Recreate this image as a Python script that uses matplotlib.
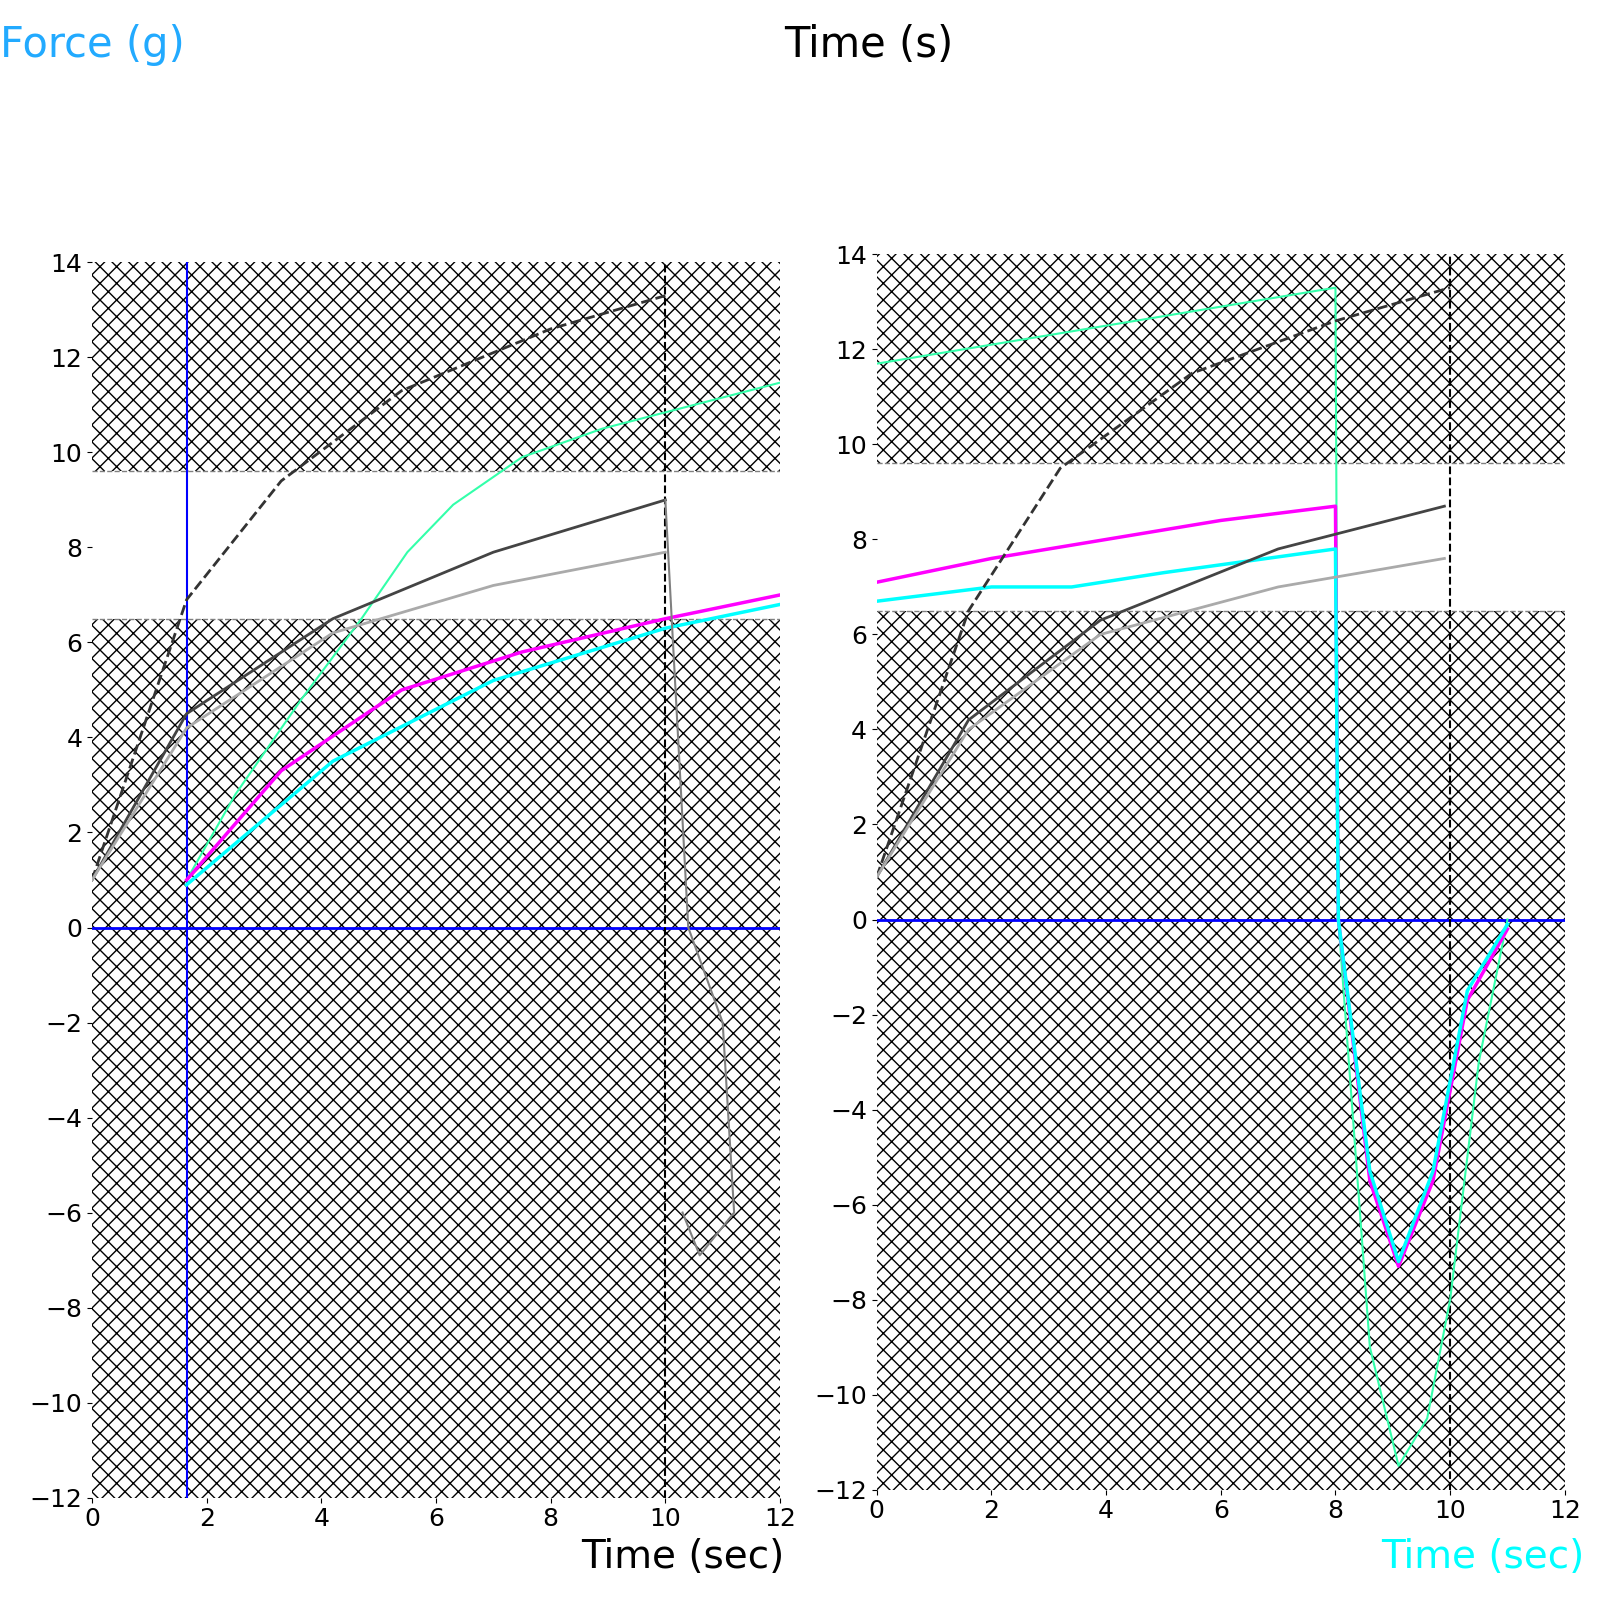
import matplotlib.pyplot as plt
import numpy as np

# left panel series (time s, force g)
l_green_t = [1.65, 2.5, 3.65, 4.7, 5.5, 6.3, 7.5, 8.9, 10.5, 12.1]
l_green_y = [1.0, 2.8, 4.8, 6.5, 7.9, 8.9, 9.9, 10.5, 11.0, 11.5]
l_mag_t = [1.65, 3.3, 5.4, 7.5, 10.0, 12.0]
l_mag_y = [1.0, 3.3, 5.0, 5.8, 6.5, 7.0]
l_cyan_t = [1.65, 4.2, 7.0, 10.0, 12.0]
l_cyan_y = [0.9, 3.5, 5.2, 6.3, 6.8]
l_blk_t = [0.0, 1.65, 3.3, 5.4, 8.0, 10.0]
l_blk_y = [1.0, 6.9, 9.4, 11.3, 12.6, 13.3]
l_dark_t = [0.0, 1.65, 4.2, 7.0, 10.0]
l_dark_y = [1.0, 4.5, 6.5, 7.9, 9.0]
l_grey_t = [0.0, 1.65, 4.2, 7.0, 10.0]
l_grey_y = [1.0, 4.2, 6.2, 7.2, 7.9]
l_tail_t = [10.0, 10.4, 11.0, 11.2, 10.6, 10.3]
l_tail_y = [9.0, 0.0, -2.0, -6.0, -6.9, -6.0]

# right panel series
r_green_t = [0.0, 2.0, 4.0, 6.0, 8.0, 8.05, 8.6, 9.1, 9.6, 10.0, 10.5, 11.0]
r_green_y = [11.7, 12.1, 12.5, 12.9, 13.3, 0.0, -9.0, -11.5, -10.5, -8.0, -3.0, 0.0]
r_mag_t = [0.0, 2.0, 4.0, 6.0, 8.0, 8.05, 8.6, 9.1, 9.7, 10.3, 11.0]
r_mag_y = [7.1, 7.6, 8.0, 8.4, 8.7, 0.0, -5.5, -7.3, -5.5, -1.7, -0.2]
r_cyan_t = [0.0, 2.0, 3.4, 5.0, 8.0, 8.05, 8.6, 9.1, 9.7, 10.3, 11.0]
r_cyan_y = [6.7, 7.0, 7.0, 7.3, 7.8, 0.0, -5.3, -7.2, -5.3, -1.5, -0.1]
r_blk_t = [0.0, 1.6, 3.2, 5.5, 8.0, 10.0]
r_blk_y = [0.9, 6.5, 9.5, 11.5, 12.6, 13.3]
r_dark_t = [0.0, 1.6, 3.9, 7.0, 9.9]
r_dark_y = [0.9, 4.2, 6.3, 7.8, 8.7]
r_grey_t = [0.0, 1.6, 3.9, 7.0, 9.9]
r_grey_y = [0.9, 4.0, 6.0, 7.0, 7.6]

x_ticks = [0, 2, 4, 6, 8, 10, 12]
y_ticks = [-12, -10, -8, -6, -4, -2, 0, 2, 4, 6, 8, 10, 12, 14]

fig = plt.figure(figsize=(16, 16), dpi=100)
ax1 = fig.add_axes([0.0575, 0.064, 0.43, 0.772])
ax2 = fig.add_axes([0.548, 0.069, 0.43, 0.772])


def setup(ax):
    ax.set_xlim(0, 12)
    ax.set_ylim(-12, 14)
    ax.axhspan(-12, 6.5, facecolor='white', edgecolor='black', hatch='xx', lw=0, zorder=0)
    ax.axhspan(9.6, 14, facecolor='white', edgecolor='black', hatch='xx', lw=0, zorder=0)
    ax.axhline(6.5, color='grey', ls='--', lw=1)
    ax.axhline(9.6, color='grey', ls='--', lw=1)
    ax.axhline(0, color='blue', lw=2)
    ax.axvline(10, color='black', ls='--', lw=1.5)
    ax.set_xticks(x_ticks)
    ax.set_yticks(y_ticks)
    ax.tick_params(labelsize=18)
    for s in ax.spines.values():
        s.set_visible(False)


setup(ax1)
setup(ax2)

ax1.axvline(1.65, color='blue', lw=1.5)
ax1.plot(l_green_t, l_green_y, color='#33ffaa', lw=1.5)
ax1.plot(l_mag_t, l_mag_y, color='magenta', lw=2.5)
ax1.plot(l_cyan_t, l_cyan_y, color='cyan', lw=2.5)
ax1.plot(l_blk_t, l_blk_y, color='#333333', ls='--', lw=2)
ax1.plot(l_dark_t, l_dark_y, color='#444444', lw=2)
ax1.plot(l_grey_t, l_grey_y, color='#aaaaaa', lw=2)
ax1.plot(l_tail_t, l_tail_y, color='grey', lw=1.5)

ax2.plot(r_green_t, r_green_y, color='#33ffaa', lw=1.5)
ax2.plot(r_mag_t, r_mag_y, color='magenta', lw=2.5)
ax2.plot(r_cyan_t, r_cyan_y, color='cyan', lw=2.5)
ax2.plot(r_blk_t, r_blk_y, color='#333333', ls='--', lw=2)
ax2.plot(r_dark_t, r_dark_y, color='#444444', lw=2)
ax2.plot(r_grey_t, r_grey_y, color='#aaaaaa', lw=2)

fig.text(0.0, 0.985, 'Force (g)', color='#22aaff', fontsize=30, va='top')
fig.text(0.49, 0.985, 'Time (s)', color='black', fontsize=30, va='top')
fig.text(0.49, 0.02, 'Time (sec)', color='black', fontsize=28, ha='right')
fig.text(0.99, 0.02, 'Time (sec)', color='cyan', fontsize=28, ha='right')

plt.savefig('out.png')
